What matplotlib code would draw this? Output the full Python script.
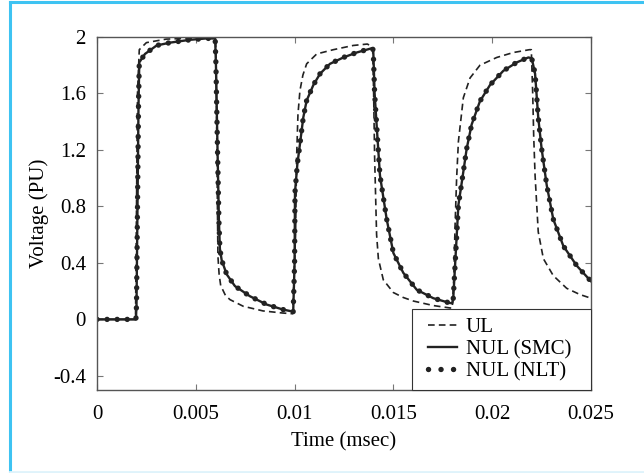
import matplotlib.pyplot as plt
from matplotlib.lines import Line2D
from matplotlib.legend_handler import HandlerLine2D

# values (time in msec, voltage in PU)
ul_t = [0, 0.00195, 0.0020, 0.00205, 0.00214, 0.0025, 0.0035, 0.0045, 0.0055, 0.0060,
        0.00603, 0.00608, 0.00612, 0.00618, 0.00626, 0.0065, 0.00673, 0.0074, 0.0084, 0.0094, 0.0099,
        0.01005, 0.0101, 0.01017, 0.01027, 0.01042, 0.01061, 0.01112, 0.01196, 0.01297, 0.01368,
        0.01395, 0.0140, 0.01405, 0.01415, 0.01424, 0.01449, 0.0150, 0.0155, 0.01601, 0.01702,
        0.01786, 0.01798,
        0.01806, 0.01812, 0.0182, 0.01829, 0.01854, 0.01888, 0.01938, 0.02023, 0.02107, 0.02188,
        0.02198, 0.02205, 0.0221, 0.02217, 0.02233, 0.02259, 0.02309, 0.02377, 0.02444, 0.0250]
ul_v = [0, 0, 0.8, 1.6, 1.91, 1.96, 1.985, 1.99, 1.99, 1.99,
        1.8, 1.0, 0.45, 0.32, 0.24, 0.17, 0.14, 0.093, 0.06, 0.045, 0.04,
        0.6, 1.14, 1.45, 1.62, 1.73, 1.81, 1.88, 1.91, 1.94, 1.95,
        1.93, 1.6, 1.15, 0.6, 0.43, 0.28, 0.19, 0.155, 0.13, 0.098,
        0.081, 0.08,
        0.3, 0.66, 1.0, 1.26, 1.57, 1.71, 1.80, 1.855, 1.89, 1.91,
        1.91, 1.6, 1.3, 1.02, 0.62, 0.43, 0.31, 0.22, 0.176, 0.15]

smc_t = [0, 0.00197, 0.0020, 0.00205, 0.0021, 0.00214, 0.00243, 0.00302, 0.0037, 0.0047,
         0.00555, 0.00598, 0.00602, 0.0061, 0.00617, 0.00622, 0.00631, 0.00656, 0.00698, 0.00774,
         0.00859, 0.00943, 0.00993,
         0.0100, 0.01002, 0.01014, 0.01027, 0.01044, 0.01061, 0.01095, 0.01129, 0.01179, 0.01247,
         0.01314, 0.0139, 0.01398, 0.01405, 0.01415, 0.01432, 0.01466, 0.0150, 0.0155, 0.01618,
         0.01702, 0.01786, 0.01798,
         0.01803, 0.01812, 0.01829, 0.01846, 0.01871, 0.01896, 0.01938, 0.01989, 0.02056, 0.02124,
         0.02183, 0.0220, 0.02217, 0.02233, 0.0225, 0.02276, 0.02309, 0.0236, 0.02428, 0.0250]
smc_v = [0, 0, 0.1, 0.8, 1.5, 1.82, 1.88, 1.94, 1.96, 1.98,
         1.99, 1.99, 1.8, 1.2, 0.7, 0.5, 0.42, 0.32, 0.236, 0.164,
         0.105, 0.069, 0.055,
         0.4, 0.9, 1.1, 1.24, 1.43, 1.55, 1.66, 1.74, 1.81, 1.855,
         1.89, 1.92, 1.91, 1.6, 1.38, 1.02, 0.71, 0.47, 0.33, 0.21,
         0.15, 0.116, 0.115,
         0.15, 0.38, 0.81, 0.97, 1.21, 1.38, 1.545, 1.66, 1.76, 1.82,
         1.855, 1.85, 1.74, 1.43, 1.21, 0.95, 0.71, 0.52, 0.38, 0.27]

# NLT sits on top of SMC in the picture
nlt_t = smc_t
nlt_v = smc_v

xticks = [0, 0.005, 0.01, 0.015, 0.02, 0.025]
xticklabels = ['0', '0.005', '0.01', '0.015', '0.02', '0.025']
yticks = [-0.4, 0, 0.4, 0.8, 1.2, 1.6, 2]
yticklabels = ['-0.4', '0', '0.4', '0.8', '1.2', '1.6', '2']

plt.rcParams['font.family'] = ['Liberation Serif', 'DejaVu Serif']
ink = '#222222'
fs = 15

dash = dict(ls=(0, (4, 2.5)), lw=1.2, color=ink)
solid = dict(ls='-', lw=1.7, color=ink)
# round-capped dots along the curve, spaced evenly by arc length
dots = dict(ls=(0, (0.01, 1.85)), lw=3.9, color=ink, dash_capstyle='round')

fig = plt.figure(figsize=(6.44, 4.73), dpi=100)
ax = fig.add_axes([0.1506, 0.1755, 0.7671, 0.7463])

ax.plot(ul_t, ul_v, **dash)
ax.plot(smc_t, smc_v, **solid)
ax.plot(nlt_t, nlt_v, **dots)

ax.set_xlim(0, 0.025)
ax.set_ylim(-0.5, 2)
ax.set_xticks(xticks)
ax.set_xticklabels(xticklabels)
ax.set_yticks(yticks)
ax.set_yticklabels(yticklabels)
ax.tick_params(direction='in', top=True, right=True, length=4, width=0.8,
               color='#777777', labelsize=fs, pad=8)
ax.tick_params(axis='x', pad=11)
for s in ax.spines.values():
    s.set_color('#555555')
    s.set_linewidth(1.0)

ax.set_xlabel('Time (msec)', fontsize=fs, labelpad=6)
ax.set_ylabel('Voltage (PU)', fontsize=fs, labelpad=3)

handles = [Line2D([], [], **dash), Line2D([], [], **solid),
           Line2D([], [], ls=(0, (0.01, 2.3)), lw=3.9, color=ink, dash_capstyle='round')]
hmap = {h: HandlerLine2D(xpad=0.37) for h in handles}
leg = ax.legend(handles, ['UL', 'NUL (SMC)', 'NUL (NLT)'], loc='lower left',
                bbox_to_anchor=(0.6377, 0, 0.3623, 0.2), mode='expand',
                borderaxespad=0, fontsize=fs, handlelength=1.76, handler_map=hmap,
                fancybox=False, framealpha=1, edgecolor='#333333',
                labelspacing=0.13, borderpad=0.4, handletextpad=0.43)
leg.get_frame().set_linewidth(0.8)

# light blue frame round the figure
fig.add_artist(Line2D([10 / 644, 10 / 644], [0, 1 - 2 / 473], transform=fig.transFigure,
                      color='#3ec3f2', lw=2.2))
fig.add_artist(Line2D([10 / 644, 1], [1 - 2 / 473, 1 - 2 / 473], transform=fig.transFigure,
                      color='#3ec3f2', lw=2.2))
fig.add_artist(Line2D([10 / 644, 1], [1.5 / 473, 1.5 / 473], transform=fig.transFigure,
                      color='#dff3fb', lw=2))

fig.savefig('out.png', dpi=100)
